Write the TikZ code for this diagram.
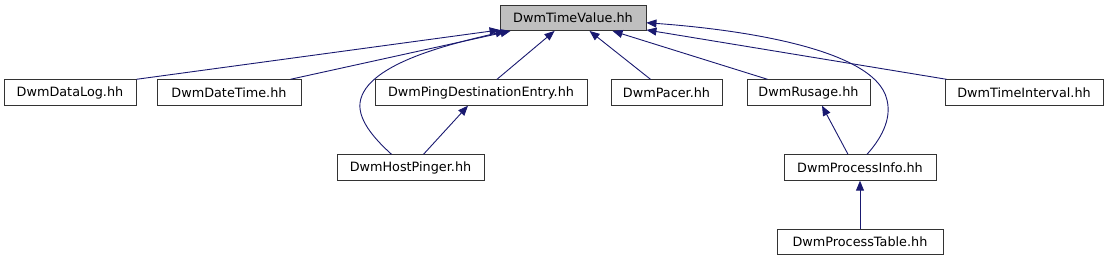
\documentclass[tikz,border=0pt]{standalone}
\usepackage{fontspec}
\setmainfont{DejaVu Sans}
\usetikzlibrary{arrows.meta}
\definecolor{edgeblue}{HTML}{191970}
\tikzset{
	file/.style={draw=black!80, line width=0.9pt, fill=white, inner sep=0pt, minimum height=25.5pt, font=\fontsize{12.8}{15}\selectfont},
	dep/.style={draw=edgeblue, line width=0.9pt, -{Triangle[length=10pt,width=8pt,fill=edgeblue]}}
}
\begin{document}
\begin{tikzpicture}[x=1pt,y=-1pt]
		\useasboundingbox (0,0) rectangle (1109,261);
		% files
		\node [file, fill=gray!50, minimum width=146pt] (tv) at (573,17.75) {DwmTimeValue.hh};
		\node [file, minimum width=132pt] (dl) at (70,92.5) {DwmDataLog.hh};
		\node [file, minimum width=144pt] (dt) at (229,92.5) {DwmDateTime.hh};
		\node [file, minimum width=212pt] (pd) at (481,92.5) {DwmPingDestinationEntry.hh};
		\node [file, minimum width=111pt] (pa) at (666.5,92.5) {DwmPacer.hh};
		\node [file, minimum width=123pt] (ru) at (808.5,92.5) {DwmRusage.hh};
		\node [file, minimum width=158pt] (ti) at (1024,92.5) {DwmTimeInterval.hh};
		\node [file, minimum width=147pt] (hp) at (410.5,167.5) {DwmHostPinger.hh};
		\node [file, minimum width=152pt] (pi) at (860,167.5) {DwmProcessInfo.hh};
		\node [file, minimum width=166pt] (pt) at (860,242) {DwmProcessTable.hh};
		% includes
		\draw[dep] (dl.north east) -- ([yshift=1pt]tv.south west);
		\draw[dep] ([xshift=-11pt]dt.north east) -- ([xshift=11pt]tv.south west);
		\draw[dep] ([xshift=16pt]pd.north) -- ([xshift=55pt]tv.south west);
		\draw[dep] ([xshift=-16pt]pa.north) -- ([xshift=90pt]tv.south west);
		\draw[dep] ([xshift=-41pt]ru.north) -- ([xshift=113pt]tv.south west);
		\draw[dep] ([xshift=2pt]ti.north west) -- ([yshift=1pt]tv.south east);
		\draw[dep] ([xshift=-19pt]hp.north) .. controls (378,142) and (358,122) .. (360,103)
			.. controls (365,62) and (460,42) .. ([xshift=6pt]tv.south west);
		\draw[dep] ([xshift=13pt]hp.north) -- ([xshift=-13pt]pd.south);
		\draw[dep] ([xshift=7pt]pi.north) .. controls (880,140) and (892,120) .. (887,100)
			.. controls (875,45) and (720,28) .. ([yshift=-5pt]tv.east);
		\draw[dep] ([xshift=-12pt]pi.north) -- ([xshift=13.5pt]ru.south);
		\draw[dep] (pt.north) -- (pi.south);
	\end{tikzpicture}
\end{document}
